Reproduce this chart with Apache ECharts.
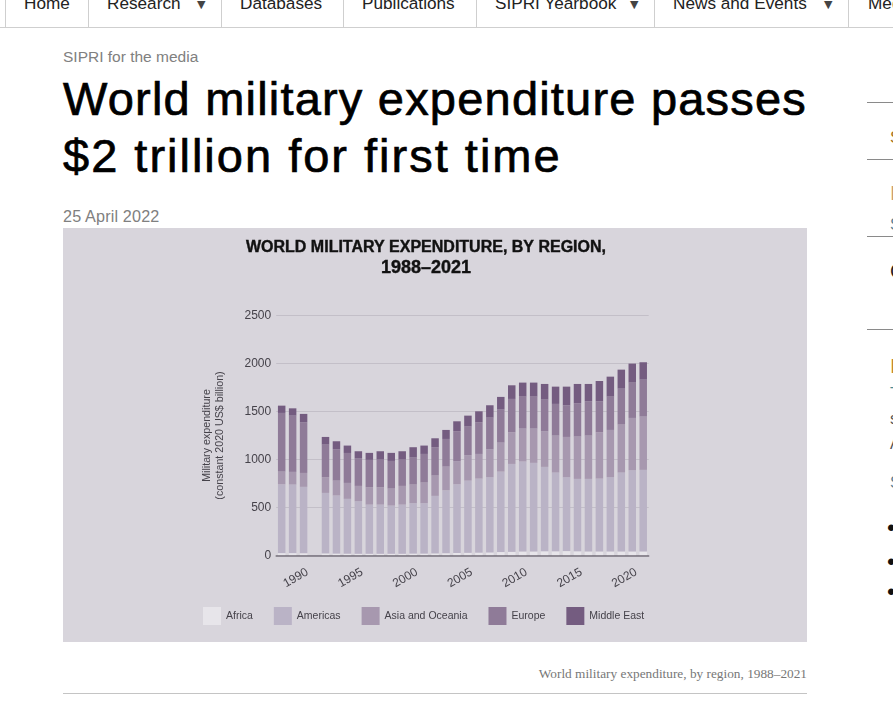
<!DOCTYPE html>
<html>
<head>
<meta charset="utf-8">
<title>World military expenditure</title>
<script src="https://cdn.jsdelivr.net/npm/echarts@6/dist/echarts.min.js"></script>
<style>
html, body { margin: 0; padding: 0; background: #fff; width: 893px; height: 710px; overflow: hidden; }
body { position: relative; font-family: "Liberation Sans", sans-serif; }
.t { position: absolute; white-space: nowrap; }
.nav { font-size: 17.2px; color: #222; top: -7px; line-height: 20px; }
.arrow { font-family: "DejaVu Sans", sans-serif; font-size: 11px; color: #444; top: -1px; line-height: 12px; }
.sep { position: absolute; top: 0; width: 1px; height: 27px; background: #cfcfcf; }
.rule { position: absolute; left: 867px; width: 26px; height: 1px; background: #8a8a8a; }
.head { left: 63px; font-size: 47px; line-height: 57px; color: #000; -webkit-text-stroke: 0.7px #000; }
#chart { position: absolute; left: 63px; top: 228px; width: 744px; height: 414px; }
</style>
</head>
<body>
<div style="position:absolute;left:0;top:27px;width:893px;height:1px;background:#cfcfcf"></div>
<div class="sep" style="left:5px"></div><div class="sep" style="left:88px"></div>
<div class="sep" style="left:221px"></div><div class="sep" style="left:343px"></div>
<div class="sep" style="left:476px"></div><div class="sep" style="left:654px"></div>
<div class="sep" style="left:848px"></div>
<div class="t nav" style="left:24px">Home</div>
<div class="t nav" style="left:107px">Research</div>
<div class="t arrow" style="left:197px">▼</div>
<div class="t nav" style="left:240px">Databases</div>
<div class="t nav" style="left:362px">Publications</div>
<div class="t nav" style="left:495px">SIPRI Yearbook</div>
<div class="t arrow" style="left:630px">▼</div>
<div class="t nav" style="left:673px">News and Events</div>
<div class="t arrow" style="left:824px">▼</div>
<div class="t nav" style="left:868px">Media</div>

<div class="t" style="left:63px;top:47px;font-size:15.5px;line-height:20px;color:#808080">SIPRI for the media</div>
<div class="t head" style="top:70px;letter-spacing:1.2px">World military expenditure passes</div>
<div class="t head" style="top:127px;letter-spacing:2px">$2 trillion for first time</div>
<div class="t" style="left:63px;top:206px;font-size:16.2px;letter-spacing:0.15px;line-height:20px;color:#808080">25 April 2022</div>
<div id="chart"></div>
<div class="t" style="right:86px;top:665px;font-family:'Liberation Serif',serif;font-size:13.3px;line-height:18px;color:#777">World military expenditure, by region, 1988–2021</div>
<div style="position:absolute;left:63px;top:693px;width:744px;height:1px;background:#c4c4c4"></div>

<div class="rule" style="top:102px"></div><div class="rule" style="top:159px"></div>
<div class="rule" style="top:236px"></div><div class="rule" style="top:329px"></div>
<div class="t" style="left:890px;top:128px;font-size:17px;color:#a8741a">S</div>
<div class="t" style="left:890px;top:182px;font-size:20px;color:#c9a070">I</div>
<div class="t" style="left:890px;top:216px;font-size:16px;color:#5a7f95">S</div>
<div class="t" style="left:890px;top:260px;font-size:20px;color:#222">C</div>
<div class="t" style="left:890px;top:355px;font-size:20px;color:#c08a30">I</div>
<div class="t" style="left:890px;top:385px;font-size:16px;color:#4a8a95">T</div>
<div class="t" style="left:890px;top:410px;font-size:16px;color:#555">s</div>
<div class="t" style="left:890px;top:435px;font-size:16px;color:#555">A</div>
<div class="t" style="left:890px;top:474px;font-size:16px;color:#5a7f95">S</div>
<div class="t" style="left:887px;top:514px;font-size:24px;color:#111">•</div>
<div class="t" style="left:887px;top:548px;font-size:24px;color:#111">•</div>
<div class="t" style="left:887px;top:578px;font-size:24px;color:#111">•</div>

<script>
const years = ['1988','1989','1990','1991','1992','1993','1994','1995','1996','1997','1998','1999','2000','2001','2002','2003','2004','2005','2006','2007','2008','2009','2010','2011','2012','2013','2014','2015','2016','2017','2018','2019','2020','2021'];
// no data for 1991 (USSR break), gap is in the original
const africa = [25,25,24,null,22,20,19,18,18,18,18,18,20,20,22,24,26,28,30,32,36,38,42,42,44,44,46,44,42,42,42,42,42,42];
const americas = [717,714,691,null,630,605,571,547,512,512,502,512,525,525,599,656,716,752,771,783,838,916,937,923,879,820,769,754,756,759,773,822,846,850];
const asia = [132,132,145,null,163,155,166,160,181,181,177,195,194,215,212,246,240,264,257,292,302,330,343,357,371,385,420,441,451,483,493,500,545,555];
const europe = [611,586,528,null,340,327,312,285,285,288,288,274,281,298,295,288,312,299,330,329,344,347,333,333,330,330,330,347,358,323,347,374,368,385];
const middleEast = [76,76,87,null,80,83,77,76,73,87,84,87,108,87,93,94,104,114,114,129,132,142,146,146,163,180,194,201,180,211,208,198,198,181];

const regions = ['Africa','Americas','Asia and Oceania','Europe','Middle East'];
const colors = ['#e7e5ea','#bab3c6','#a798af','#8f7b98','#745c80'];
const textColor = '#45424a';

const chart = echarts.init(document.getElementById('chart'));

function isTickYear(i) {
    return (1988 + i) % 5 === 0;
}

const series = [africa, americas, asia, europe, middleEast].map((values, i) => ({
    name: regions[i],
    type: 'bar',
    stack: 'total',
    barWidth: 7.5,
    data: values,
    itemStyle: { color: colors[i] }
}));

chart.setOption({
    animation: false,
    backgroundColor: '#d8d5dc',
    color: colors,
    title: {
        text: '{a|WORLD MILITARY EXPENDITURE, BY REGION,}\n{b|1988–2021}',
        left: 358,
        top: 4,
        textAlign: 'center',
        textStyle: {
            rich: {
                a: { fontFamily: 'Liberation Sans', fontSize: 16, fontWeight: 'bold', color: '#111', lineHeight: 21, textBorderColor: '#111', textBorderWidth: 0.4 },
                b: { fontFamily: 'Liberation Sans', fontSize: 18, fontWeight: 'bold', color: '#111', lineHeight: 21, textBorderColor: '#111', textBorderWidth: 0.4 }
            }
        }
    },
    legend: {
        left: 140,
        top: 379,
        padding: 0,
        itemWidth: 18,
        itemHeight: 18,
        itemGap: 21,
        itemStyle: { borderWidth: 0 },
        textStyle: { fontFamily: 'Liberation Sans', fontSize: 10.5, color: textColor },
        data: regions,
        icon: 'rect'
    },
    grid: { left: 213.2, top: 87.5, width: 372.5, height: 240 },
    xAxis: {
        type: 'category',
        z: 5,
        data: years,
        axisLine: { lineStyle: { color: '#77727c', width: 1.5 } },
        axisTick: { alignWithLabel: true, length: 4, interval: isTickYear, lineStyle: { color: '#77727c' } },
        axisLabel: {
            interval: isTickYear,
            rotate: 30,
            align: 'center',
            padding: [0, 18, 0, 0],
            fontFamily: 'Liberation Sans',
            fontSize: 12,
            color: textColor,
            margin: 18
        }
    },
    yAxis: {
        type: 'value',
        min: 0,
        max: 2500,
        interval: 500,
        name: 'Military expenditure\n(constant 2020 US$ billion)',
        nameLocation: 'middle',
        nameGap: 50,
        nameTextStyle: { fontFamily: 'Liberation Sans', fontSize: 10.7, color: textColor, lineHeight: 13 },
        axisLine: { show: false },
        axisTick: { show: false },
        axisLabel: {
            fontFamily: 'Liberation Sans',
            fontSize: 12,
            color: textColor,
            margin: 5,
            formatter: (v) => String(v)
        },
        splitLine: { lineStyle: { color: '#c3bfc8', width: 1 } }
    },
    series: series
});
</script>
</body>
</html>
